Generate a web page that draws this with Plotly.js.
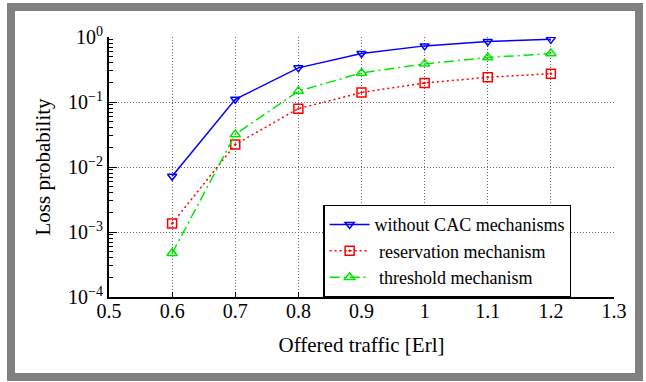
<!DOCTYPE html>
<html>
<head>
<meta charset="utf-8">
<script src="https://cdn.plot.ly/plotly-3.0.1.min.js"></script>
<style>
html,body{margin:0;padding:0;background:#fff;}
#wrap{position:relative;width:646px;height:382px;}
#chart{position:absolute;left:0;top:0;width:646px;height:382px;}
#frame{position:absolute;left:7px;top:3px;width:620px;height:362px;border:8px solid #808080;pointer-events:none;}
</style>
</head>
<body>
<div id="wrap"><div id="chart"></div><div id="frame"></div></div>
<script>
const traffic = [0.6, 0.7, 0.8, 0.9, 1.0, 1.1, 1.2];
const withoutCAC = [0.0072, 0.110, 0.335, 0.556, 0.73, 0.85, 0.92];
const reservation = [0.00135, 0.0222, 0.079, 0.140, 0.196, 0.240, 0.273];
const threshold = [0.00047, 0.0317, 0.147, 0.280, 0.386, 0.484, 0.556];
const seriesNames = ['without CAC mechanisms', '\u00a0reservation mechanism', '\u00a0threshold mechanism'];
const xTickVals = [0.5, 0.6, 0.7, 0.8, 0.9, 1.0, 1.1, 1.2, 1.3];
const xTickText = ['0.5', '0.6', '0.7', '0.8', '0.9', '1', '1.1', '1.2', '1.3'];
const yTickVals = [1e-4, 1e-3, 1e-2, 1e-1, 1];
const yTickText = ['10<sup>\u22124</sup>', '10<sup>\u22123</sup>', '10<sup>\u22122</sup>', '10<sup>\u22121</sup>', '10<sup>0</sup>'];

const font = 'Liberation Serif';
const traces = [
  {x: traffic, y: withoutCAC, name: seriesNames[0], mode: 'lines+markers',
   line: {color: '#0000ff', width: 1.5, dash: 'solid'},
   marker: {symbol: 'triangle-down-open', size: 8, color: '#0000ff', line: {width: 1.5}}},
  {x: traffic, y: reservation, name: seriesNames[1], mode: 'lines+markers',
   line: {color: '#ff0000', width: 1.5, dash: '2px,3px'},
   marker: {symbol: 'square-open-dot', size: 9, color: '#ff0000', line: {width: 1.5}}},
  {x: traffic, y: threshold, name: seriesNames[2], mode: 'lines+markers',
   line: {color: '#00e600', width: 1.5, dash: '10px,4px,2px,4px'},
   marker: {symbol: 'triangle-up-open', size: 9, color: '#00e600', line: {width: 1.5}}}
];
const layout = {
  width: 646, height: 382,
  margin: {l: 109, r: 32, t: 37, b: 85},
  paper_bgcolor: '#fff', plot_bgcolor: '#fff',
  font: {family: font, color: '#000', size: 20},
  showlegend: true,
  legend: {x: 0.424, y: 0.355, xanchor: 'left', yanchor: 'top',
    bordercolor: '#000', borderwidth: 1.5, bgcolor: '#fff',
    font: {family: font, size: 18, color: '#000'}, tracegroupgap: 0, itemwidth: 40,
    entrywidth: 270, entrywidthmode: 'pixels'},
  xaxis: {range: [0.5, 1.3], tickvals: xTickVals, ticktext: xTickText,
    showgrid: true, gridcolor: '#666', griddash: '1px,2px', gridwidth: 1,
    showline: true, linecolor: '#000', linewidth: 2, mirror: false,
    ticks: 'inside', ticklen: 5, tickcolor: '#000', tickwidth: 1, zeroline: false,
    ticklabelstandoff: -5,
    tickfont: {family: font, size: 20},
    title: {text: 'Offered traffic [Erl]', font: {family: font, size: 21}, standoff: 16}},
  yaxis: {type: 'log', range: [-4, 0], tickvals: yTickVals, ticktext: yTickText,
    showgrid: true, gridcolor: '#666', griddash: '1px,2px', gridwidth: 1,
    showline: true, linecolor: '#000', linewidth: 2, mirror: false,
    ticks: 'inside', ticklen: 8, tickcolor: '#000', tickwidth: 1, zeroline: false,
    minor: {ticks: 'inside', ticklen: 4, tickcolor: '#000', tickwidth: 1, showgrid: false, dtick: 'D1'},
    tickfont: {family: font, size: 20},
    title: {text: 'Loss probability', font: {family: font, size: 21}, standoff: 12}}
};
Plotly.newPlot('chart', traces, layout, {displayModeBar: false, staticPlot: true});
</script>
</body>
</html>
